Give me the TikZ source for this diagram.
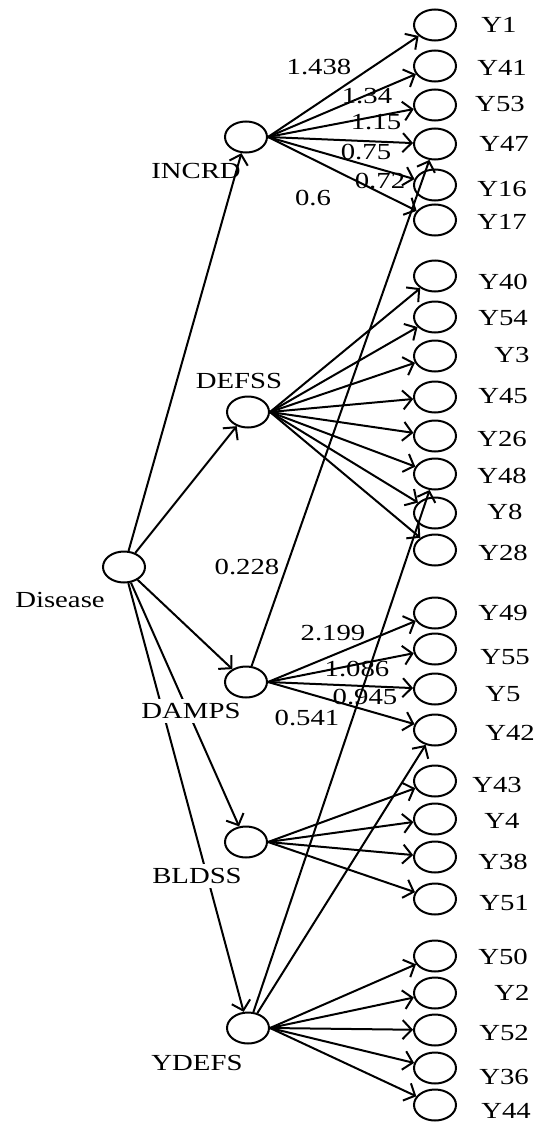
\documentclass[tikz,border=0pt]{standalone}
\usepackage{fontspec}
\setmainfont{Liberation Serif}
\usepackage{graphicx}
\usetikzlibrary{shapes.geometric,arrows.meta}
\newcommand{\wt}[1]{\scalebox{1.25}[1]{#1}}
\begin{document}
\begin{tikzpicture}[x=1pt,y=-1pt,
  lat/.style={ellipse,draw,line width=2pt,minimum width=42pt,minimum height=31pt,inner sep=0pt},
  txt/.style={inner sep=1pt,font=\fontsize{23}{25}\selectfont},
  boxtxt/.style={txt,fill=white,inner sep=4pt},
  edge/.style={line width=2pt,-{Straight Barb[length=9pt,width=19pt]}}]
\useasboundingbox (0,0) rectangle (540,1124);
% latent nodes
\node[lat] (dis) at (124,567) {};
\node[lat] (incrd) at (246,137) {};
\node[lat] (defss) at (248,412) {};
\node[lat] (damps) at (246,682) {};
\node[lat] (bldss) at (246,842) {};
\node[lat] (ydefs) at (248,1028) {};
% indicator nodes
\foreach \n/\yy in {1/25,41/66,53/105,47/144,16/185,17/220,
  40/276,54/317,3/356,45/397,26/436,48/474,8/513,28/550,
  49/613,55/649,5/689,42/730,
  43/781,4/819,38/857,51/899,
  50/956,2/993,52/1030,36/1068,44/1105}
  \node[lat] (y\n) at (435,\yy) {};
% indicator labels
\foreach \n/\xx/\yy in {1/499/25,41/502/68,53/500/104,47/504/144,16/502/189,17/502/222,
  40/503/282,54/503/318,3/512/355,45/503/396,26/502/439,48/502/476,8/505/512,28/503/553,
  49/503/613,55/505/657,5/503/694,42/510/733,
  43/497/785,4/502/821,38/503/862,51/504/903,
  50/503/957,2/512/993,52/504/1033,36/504/1077,44/506/1111}
  \node[txt] (ly\n) at (\xx,\yy) {\wt{Y\n}};
% labels under lines
\node[txt] (ldis) at (60,600) {\wt{Disease}};
\node[txt] (lincrd) at (196,171) {\wt{INCRD}};
\node[txt] (ldefss) at (239,381) {\wt{DEFSS}};
% edges from Disease
\draw[edge] (dis) -- (incrd);
\draw[edge] (dis) -- (defss);
\draw[edge] (dis) -- (damps);
\draw[edge] (dis) -- (bldss);
\draw[edge] (dis) -- (ydefs);
% INCRD
\foreach \t in {1,41,53,47,16,17} \draw[edge] (incrd.east) -- (y\t);
% DEFSS
\foreach \t in {40,54,3,45,26,48,8,28} \draw[edge] (defss.east) -- (y\t);
% DAMPS
\foreach \t in {49,55,5,42} \draw[edge] (damps.east) -- (y\t);
\draw[edge] (damps) -- (y47);
% BLDSS
\foreach \t in {43,4,38,51} \draw[edge] (bldss.east) -- (y\t);
% YDEFS
\foreach \t in {50,2,52,36,44} \draw[edge] (ydefs.east) -- (y\t);
\draw[edge] (ydefs) -- (y48);
\draw[edge] (ydefs) -- (y42);
% labels over lines
\node[boxtxt] (ldamps) at (191,711) {\wt{DAMPS}};
\node[boxtxt] (lbldss) at (197,876) {\wt{BLDSS}};
\node[txt] (lydefs) at (197,1063) {\wt{YDEFS}};
% coefficients
\node[txt] (c1) at (319,67) {\wt{1.438}};
\node[txt] (c2) at (367,96) {\wt{1.34}};
\node[txt] (c3) at (376,122) {\wt{1.15}};
\node[txt] (c4) at (366,152) {\wt{0.75}};
\node[txt] (c5) at (380,181) {\wt{0.72}};
\node[txt] (c6) at (313,198) {\wt{0.6}};
\node[txt] (c7) at (247,567) {\wt{0.228}};
\node[txt] (c8) at (333,633) {\wt{2.199}};
\node[txt] (c9) at (357,669) {\wt{1.086}};
\node[txt] (c10) at (365,697) {\wt{0.945}};
\node[txt] (c11) at (307,718) {\wt{0.541}};
\end{tikzpicture}
\end{document}
